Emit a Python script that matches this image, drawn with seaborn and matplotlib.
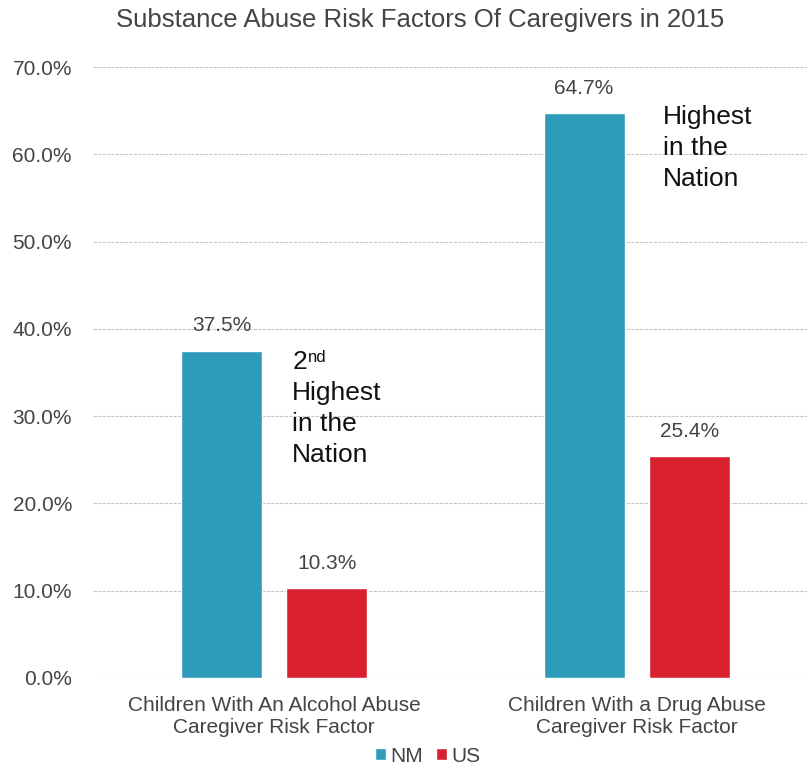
import pandas as pd
import seaborn as sns
import matplotlib.pyplot as plt
from matplotlib.ticker import PercentFormatter

categories = ["Children With An Alcohol Abuse\nCaregiver Risk Factor",
              "Children With a Drug Abuse\nCaregiver Risk Factor"]
nm_values = [37.5, 64.7]
us_values = [10.3, 25.4]
regions = ["NM", "US"]

df = pd.DataFrame({
    "category": categories * 2,
    "region": ["NM"] * 2 + ["US"] * 2,
    "value": nm_values + us_values,
})

sns.set_theme(style="white")
plt.rcParams['font.family'] = ['Liberation Sans', 'DejaVu Sans']

fig = plt.figure(figsize=(8.07, 7.66), dpi=100)
ax = fig.add_axes([0.115, 0.115, 0.885, 0.7975])

palette = {"NM": "#2f9bba", "US": "#d8202e"}
sns.barplot(data=df, x="category", y="value", hue="region", hue_order=regions,
            palette=palette, width=0.58, gap=0.23, saturation=1, ax=ax)

for cont in ax.containers:
    ax.bar_label(cont, labels=[f"{v:.1f}%" for v in cont.datavalues],
                 padding=11, fontsize=15, color="#444444")

ax.set_ylim(0, 70)
ax.set_xlim(-0.5, 1.47)
ax.set_yticks(range(0, 71, 10))
ax.yaxis.set_major_formatter(PercentFormatter(decimals=1))
ax.tick_params(axis="y", length=0, pad=15, labelsize=15, labelcolor="#444444")
ax.tick_params(axis="x", length=0, pad=13, labelsize=15, labelcolor="#444444")
ax.yaxis.grid(True, color="#c8c8c8", linestyle=(0, (3, 1)), linewidth=0.8)
ax.set_axisbelow(True)
for s in ax.spines.values():
    s.set_visible(False)
ax.set_xlabel("")
ax.set_ylabel("")

# annotations
ax.text(0.05, 37.6, "2", fontsize=19, va="top", ha="left", color="#111111")
ax.annotate("nd", xy=(0.05, 37.6), xytext=(11.2, 0), textcoords="offset points",
            fontsize=12, va="top", ha="left", color="#111111")
ax.text(0.05, 34.0, "Highest\nin the\nNation", fontsize=19, va="top", ha="left",
        linespacing=1.36, color="#111111")
ax.text(1.072, 65.6, "Highest\nin the\nNation", fontsize=19, va="top", ha="left",
        linespacing=1.36, color="#111111")

fig.suptitle("Substance Abuse Risk Factors Of Caregivers in 2015", x=0.52, y=0.99,
             fontsize=18.5, color="#444444")

ax.legend_.remove()
handles, labels = ax.get_legend_handles_labels()
fig.legend(handles, labels, loc="center", bbox_to_anchor=(0.53, 0.013), ncol=2,
           frameon=False, fontsize=15, handlelength=0.55, handleheight=0.55,
           handletextpad=0.2, columnspacing=0.6, labelcolor="#444444")

fig.savefig("out.png", dpi=100)
